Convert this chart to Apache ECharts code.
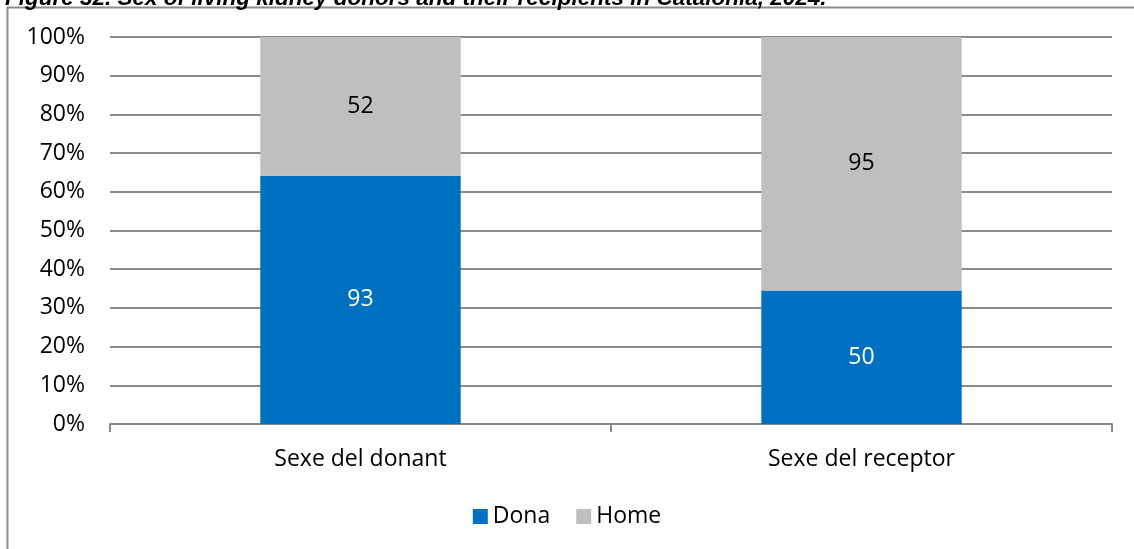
<!DOCTYPE html>
<html style="height: 100%">
<head>
    <meta charset="utf-8">
</head>
<body style="height: 100%; margin: 0">
<div id="sexe_container" style="height: 549px;width: 1134px"></div>
<script src="https://cdn.jsdelivr.net/npm/echarts@6/dist/echarts.min.js"></script>
<script type="text/javascript">

    var categories = ['Sexe del donant', 'Sexe del receptor'];
    var dona_counts = [93, 50];
    var home_counts = [52, 95];
    var y_ticks = [0, 10, 20, 30, 40, 50, 60, 70, 80, 90, 100];

    function toPercent(own, other) {
        return own.map(function (v, i) { return v / (v + other[i]) * 100; });
    }
    var dona_pct = toPercent(dona_counts, home_counts);
    var home_pct = toPercent(home_counts, dona_counts);

    var fontFamily = '"Open Sans", "Noto Sans", sans-serif';

    var sexe_option = {
        animation: false,
        color: ['#0070C0', '#BFBFBF'],
        title: {
            text: 'Figure 32. Sex of living kidney donors and their recipients in Catalonia, 2024.',
            left: 0,
            top: -18,
            textStyle: {fontFamily: 'Arial, "Liberation Sans", sans-serif', fontStyle: 'italic', fontWeight: 'bold', fontSize: 22.5, color: '#000'}
        },
        graphic: [
            {type: 'polyline', shape: {points: [[7.5, 560], [7.5, 7.5], [1140, 7.5]]},
                style: {stroke: '#8c8c8c', lineWidth: 2, fill: null}}
        ],
        legend: {
            data: ['Dona', 'Home'],
            bottom: 16,
            left: 'center',
            itemWidth: 15,
            itemHeight: 15,
            itemGap: 26,
            icon: 'rect',
            textStyle: {fontFamily: fontFamily, fontSize: 23, color: '#000'}
        },
        grid: {left: 110, right: 22, top: 37, bottom: 125},
        xAxis: [{
            type: 'category',
            data: categories,
            axisLine: {lineStyle: {color: '#888', width: 2}},
            axisTick: {show: true, length: 8, lineStyle: {color: '#888', width: 2}},
            axisLabel: {fontFamily: fontFamily, fontSize: 23, color: '#000', margin: 24}
        }],
        yAxis: [{
            type: 'value',
            min: y_ticks[0],
            max: y_ticks[y_ticks.length - 1],
            interval: 10,
            axisLine: {show: false},
            axisTick: {show: false},
            splitLine: {lineStyle: {color: '#8c8c8c', width: 2}},
            axisLabel: {fontFamily: fontFamily, fontSize: 23, color: '#000', margin: 25,
                formatter: function (v) { return v + '%'; }}
        }],
        series: [
            {
                name: 'Dona',
                type: 'bar',
                stack: 'total',
                barWidth: '40%',
                data: dona_pct,
                label: {show: true, position: 'inside', fontFamily: fontFamily, fontSize: 23, color: '#fff',
                    formatter: function (p) { return dona_counts[p.dataIndex]; }}
            },
            {
                name: 'Home',
                type: 'bar',
                stack: 'total',
                barWidth: '40%',
                data: home_pct,
                label: {show: true, position: 'inside', fontFamily: fontFamily, fontSize: 23, color: '#000',
                    formatter: function (p) { return home_counts[p.dataIndex]; }}
            }
        ]
    };

    var sexe_myChart = echarts.init(document.getElementById("sexe_container"));
    sexe_myChart.setOption(sexe_option, true);
</script>
</body>
</html>
